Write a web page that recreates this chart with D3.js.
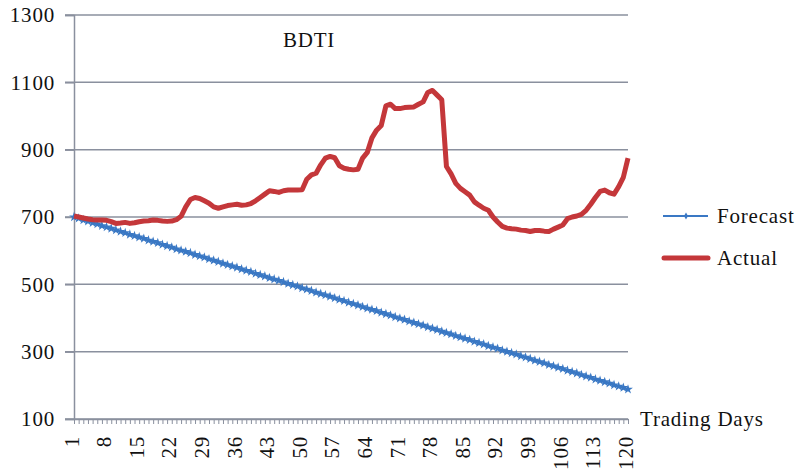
<!DOCTYPE html>
<html>
<head>
<meta charset="utf-8">
<script src="https://cdn.jsdelivr.net/npm/d3@7"></script>
<style>
   body { margin: 0; background: #fff; }
   text { font-family: "Liberation Serif", "DejaVu Serif", serif; fill: #111; }
</style>
</head>
<body>
<div id="chart"></div>
<script>
// trading days 1..120
var days = d3.range(1, 121)

var forecast = [
   700, 696, 691, 687, 683, 679, 674, 670, 666, 661,
   657, 653, 648, 644, 640, 636, 631, 627, 623, 618,
   614, 610, 605, 601, 597, 593, 588, 584, 580, 575,
   571, 567, 562, 558, 554, 550, 545, 541, 537, 532,
   528, 524, 519, 515, 511, 507, 502, 498, 494, 489,
   485, 481, 476, 472, 468, 464, 459, 455, 451, 446,
   442, 438, 433, 429, 425, 421, 416, 412, 408, 403,
   399, 395, 390, 386, 382, 378, 373, 369, 365, 360,
   356, 352, 347, 343, 339, 335, 330, 326, 322, 317,
   313, 309, 304, 300, 296, 292, 287, 283, 279, 274,
   270, 266, 261, 257, 253, 249, 244, 240, 236, 231,
   227, 223, 218, 214, 210, 206, 201, 197, 193, 188
]

var actual = [
   703, 700, 697, 694, 692, 691, 691, 690, 686, 681,
   682, 684, 681, 683, 686, 688, 689, 691, 690, 688,
   687, 688, 692, 702, 730, 752, 758, 755, 748, 741,
   730, 726, 730, 734, 736, 738, 735, 736, 740, 748,
   758, 768, 778, 776, 773, 778, 780, 780, 780, 781,
   812, 825, 830, 855, 875, 880, 876, 852, 845, 842,
   840, 842, 875, 892, 935, 958, 972, 1030, 1035, 1022,
   1022, 1025, 1026, 1027, 1035, 1042, 1070, 1076, 1062, 1048,
   850, 828, 800, 785, 775, 765, 745, 735, 726, 720,
   700, 685, 672, 667, 665, 664, 661, 660, 657, 660,
   660, 658, 657, 664, 670, 676, 695, 700, 703, 708,
   720, 738, 758, 776, 780, 772, 768, 790, 818, 875
]

var yTicks = [100, 300, 500, 700, 900, 1100, 1300]
var xLabelEvery = 7

var chartW = 798
var chartH = 473
// plot box (note: "top" is a reserved window global, so prefix these)
var plotL = 74, plotR = 628, plotT = 15, plotB = 419

var gridColor = "#8a909e"
var blue = "#3a78c4"
var red = "#c4373a"

var svg = d3.select("#chart").append("svg")
   .attr("width", chartW)
   .attr("height", chartH)

var x = d3.scalePoint().domain(days).range([plotL, plotR])
var y = d3.scaleLinear().domain([100, 1300]).range([plotB, plotT])

function styleText(sel) {
   sel.style("font-family", "Liberation Serif")
      .style("font-size", "21px")
      .style("letter-spacing", "0.8px")
      .attr("fill", "#111")
}

// horizontal gridlines
svg.selectAll("line.grid").data(yTicks).enter().append("line")
   .attr("class", "grid")
   .attr("x1", plotL - 9)
   .attr("x2", plotR)
   .attr("y1", function(d) { return y(d) })
   .attr("y2", function(d) { return y(d) })
   .attr("stroke", gridColor)
   .attr("stroke-width", 1.5)

// y axis
var yAxis = svg.append("g")
   .attr("transform", "translate(" + plotL + ",0)")
   .call(d3.axisLeft(y).tickValues(yTicks).tickFormat(d3.format("d")).tickSize(9).tickPadding(10))
yAxis.select(".domain").attr("stroke", gridColor).attr("stroke-width", 1.5)
yAxis.selectAll(".tick line").attr("stroke", gridColor).attr("stroke-width", 1.5)
yAxis.selectAll("text").call(styleText)

// x axis
var xAxis = svg.append("g")
   .attr("transform", "translate(0," + plotB + ")")
   .call(d3.axisBottom(x).tickSize(5).tickSizeOuter(0)
      .tickFormat(function(d) { return (d - 1) % xLabelEvery == 0 ? d : "" }))
xAxis.select(".domain").attr("stroke", gridColor).attr("stroke-width", 1.5)
xAxis.selectAll(".tick line").attr("stroke", gridColor).attr("stroke-width", 1)
xAxis.selectAll("text")
   .call(styleText)
   .attr("text-anchor", "end")
   .attr("transform", "rotate(-90)")
   .attr("x", -17)
   .attr("y", 0)
   .attr("dy", "0.2em")

// forecast series
var line = d3.line()
   .x(function(d, i) { return x(days[i]) })
   .y(function(d) { return y(d) })

svg.append("path")
   .datum(forecast)
   .attr("fill", "none")
   .attr("stroke", blue)
   .attr("stroke-width", 2.5)
   .attr("d", line)

svg.selectAll("path.marker").data(forecast).enter().append("path")
   .attr("class", "marker")
   .attr("d", d3.symbol().type(d3.symbolStar).size(30))
   .attr("fill", blue)
   .attr("transform", function(d, i) { return "translate(" + x(days[i]) + "," + y(d) + ")" })

// actual series
svg.append("path")
   .datum(actual)
   .attr("fill", "none")
   .attr("stroke", red)
   .attr("stroke-width", 5)
   .attr("stroke-linejoin", "round")
   .attr("d", line)

// title
svg.append("text")
   .attr("x", 309)
   .attr("y", 47)
   .attr("text-anchor", "middle")
   .call(styleText)
   .text("BDTI")

// x axis title
svg.append("text")
   .attr("x", 640)
   .attr("y", 426)
   .call(styleText)
   .text("Trading Days")

// legend
var legend = svg.append("g")
legend.append("line")
   .attr("x1", 663).attr("x2", 708)
   .attr("y1", 216).attr("y2", 216)
   .attr("stroke", blue)
   .attr("stroke-width", 2)
legend.append("path")
   .attr("d", d3.symbol().type(d3.symbolDiamond).size(14))
   .attr("fill", blue)
   .attr("transform", "translate(686,216)")
legend.append("text")
   .attr("x", 717).attr("y", 223)
   .call(styleText)
   .text("Forecast")
legend.append("line")
   .attr("x1", 664).attr("x2", 708)
   .attr("y1", 258).attr("y2", 258)
   .attr("stroke", red)
   .attr("stroke-width", 5)
   .attr("stroke-linecap", "round")
legend.append("text")
   .attr("x", 717).attr("y", 265)
   .call(styleText)
   .text("Actual")
</script>
</body>
</html>
